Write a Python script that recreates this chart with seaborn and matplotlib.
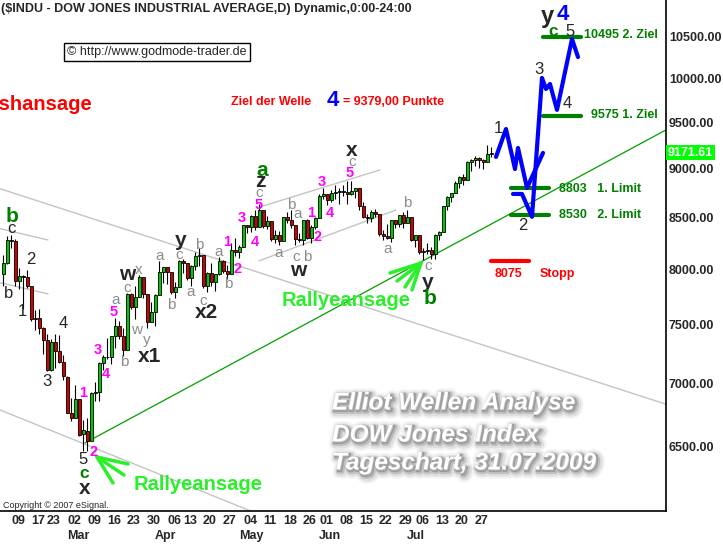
import numpy as np
import pandas as pd
import seaborn as sns
import matplotlib.pyplot as plt
import matplotlib.patheffects as pe
from matplotlib.ticker import NullLocator

W, H = 723, 544

# handelstage 05.02. - 31.07.2009
days = pd.bdate_range('2009-02-05', '2009-07-31').drop(
    pd.to_datetime(['2009-02-16', '2009-04-10', '2009-05-25', '2009-07-03']))

opens = [
    7954, 8063, 8281, 8271, 7889, 7940, 7933, 7850, 7553, 7556, 7466, 7366, 7115, 7351, 7271, 7182,
    7056, 6764, 6726, 6874, 6595, 6625, 6548, 6926, 6930, 7170, 7224, 7217, 7396, 7487, 7401, 7278,
    7776, 7660, 7750, 7925, 7776, 7522,
    7609, 7762, 7978, 8018, 7976, 7790, 7837, 8083, 8058, 7920, 8030, 8125, 8131, 7842, 7970, 7887,
    7957, 8076, 7989, 7957, 8186,
    8168, 8212, 8427, 8411, 8512, 8410, 8575, 8419, 8469, 8285, 8331, 8269, 8504, 8475, 8422, 8292,
    8277, 8473, 8300, 8404,
    8500, 8721, 8741, 8675, 8750, 8763, 8764, 8763, 8739, 8771, 8799, 8612, 8505, 8497, 8556, 8540,
    8339, 8323, 8300, 8472, 8438, 8529,
    8447, 8504, 8281, 8325, 8164, 8178, 8183, 8147, 8332, 8359, 8616, 8712, 8744, 8848, 8916, 8881,
    9069, 9093, 9109, 9097, 9071, 9154,
]
highs = [
    8140, 8315, 8330, 8290, 8010, 7950, 7990, 7850, 7630, 7640, 7480, 7420, 7370, 7420, 7410, 7240,
    7060, 6880, 6990, 6875, 6710, 6720, 6930, 7010, 7180, 7240, 7380, 7400, 7560, 7530, 7470, 7780,
    7780, 7850, 7950, 7930, 7776, 7700,
    7770, 8080, 8020, 8018, 7976, 7880, 8090, 8100, 8060, 8040, 8160, 8200, 8131, 7980, 8060, 7960,
    8120, 8090, 8040, 8250, 8300,
    8230, 8430, 8430, 8530, 8580, 8640, 8575, 8520, 8470, 8380, 8370, 8510, 8560, 8580, 8422, 8350,
    8480, 8490, 8430, 8510,
    8740, 8800, 8741, 8780, 8830, 8800, 8830, 8870, 8870, 8800, 8799, 8660, 8540, 8580, 8590, 8540,
    8380, 8440, 8480, 8480, 8530, 8560,
    8580, 8504, 8330, 8325, 8200, 8250, 8210, 8340, 8370, 8620, 8720, 8750, 8870, 8920, 8940, 9080,
    9100, 9130, 9120, 9100, 9250, 9230,
]
lows = [
    7850, 8050, 8200, 7850, 7820, 7640, 7830, 7530, 7450, 7420, 7250, 7100, 7100, 7130, 7170, 7030,
    6760, 6700, 6720, 6580, 6470, 6470, 6547, 6860, 6860, 7110, 7200, 7160, 7300, 7370, 7230, 7278,
    7640, 7550, 7750, 7740, 7470, 7520,
    7490, 7760, 7870, 7860, 7770, 7740, 7837, 7970, 7900, 7850, 7990, 8030, 7830, 7790, 7850, 7800,
    7950, 7970, 7910, 7955, 8130,
    8110, 8212, 8350, 8360, 8380, 8410, 8400, 8390, 8270, 8250, 8230, 8269, 8450, 8400, 8230, 8260,
    8230, 8290, 8250, 8390,
    8500, 8690, 8630, 8660, 8690, 8640, 8720, 8640, 8730, 8700, 8580, 8500, 8450, 8460, 8510, 8320,
    8280, 8290, 8260, 8400, 8410, 8400,
    8447, 8270, 8210, 8150, 8090, 8150, 8100, 8100, 8280, 8359, 8580, 8660, 8744, 8800, 8830, 8881,
    8980, 9030, 9010, 9000, 9070, 9120,
]
closes = [
    8063, 8281, 8271, 7889, 7940, 7933, 7850, 7553, 7556, 7466, 7366, 7115, 7351, 7271, 7182, 7063,
    6763, 6726, 6876, 6594, 6627, 6547, 6926, 6930, 7170, 7224, 7217, 7396, 7487, 7401, 7278, 7776,
    7660, 7750, 7925, 7776, 7522, 7609,
    7762, 7978, 8018, 7976, 7790, 7837, 8083, 8058, 7920, 8030, 8125, 8131, 7842, 7970, 7887, 7957,
    8076, 7989, 7957, 8186, 8168,
    8212, 8427, 8411, 8512, 8410, 8575, 8419, 8469, 8285, 8331, 8269, 8504, 8475, 8422, 8292, 8277,
    8473, 8300, 8404, 8500,
    8721, 8741, 8675, 8750, 8763, 8764, 8763, 8739, 8771, 8799, 8612, 8505, 8497, 8556, 8540, 8339,
    8323, 8300, 8472, 8438, 8529, 8447,
    8504, 8281, 8325, 8164, 8178, 8183, 8147, 8332, 8359, 8616, 8712, 8744, 8848, 8916, 8881, 9069,
    9093, 9109, 9097, 9071, 9154, 9171.61,
]

tick_days = ['02-09', '02-17', '02-23', '03-02', '03-09', '03-16', '03-23', '03-30', '04-06',
             '04-13', '04-20', '04-27', '05-04', '05-11', '05-18', '05-26', '06-01', '06-08',
             '06-15', '06-22', '06-29', '07-06', '07-13', '07-20', '07-27']
months = ['Mar', 'Apr', 'May', 'Jun', 'Jul']
month_starts = ['03-02', '04-01', '05-01', '06-01', '07-01']
yticks = [6500, 7000, 7500, 8000, 8500, 9000, 9500, 10000, 10500]

# trendlinien (index, kurs)
gray_lines = [(-1, 8795, 166, 6830), (-1, 6790, 66, 5984), (-1, 8393, 11.25, 8280),
              (-1, 7878, 11.25, 7774), (64.25, 8607, 94.25, 8987), (64, 8080, 98.25, 8576)]
green_line = (20.5, 6530, 165.75, 9418)

# projektion
path1_x = [123.25, 125.75, 128, 128.75, 131, 135]
path1_y = [9125, 9428, 8997, 9221, 8800, 9168]
path2_x = [127.5, 129.75, 132.25, 134.75, 135.75, 136.75, 138.5, 142.25, 143.75]
path2_y = [8738, 8738, 8507, 10008, 9880, 9938, 9641, 10475, 10256]

levels = [10495, 9575, 8803, 8530, 8075]
level_from = [135, 135, 127, 127, 122]
level_to = [144.5, 144.5, 136.5, 136.5, 131.5]
level_col = ['#008000', '#008000', '#008000', '#008000', '#ff0000']

sns.set_style('white')
plt.rcParams['font.family'] = ['Liberation Sans', 'DejaVu Sans']

fig = plt.figure(figsize=(W / 100, H / 100), dpi=100)
ax = fig.add_axes([0, 33 / H, 666 / W, 511 / H])
ax.set_yscale('log')

df = pd.DataFrame({'o': opens, 'h': highs, 'l': lows, 'c': closes})
x = np.arange(len(df))
up = df['c'] >= df['o']

for x0, y0, x1, y1 in gray_lines:
    ax.plot([x0, x1], [y0, y1], color='#c4c4c4', lw=1, zorder=1)
ax.plot(green_line[::2], green_line[1::2], color='#00a000', lw=0.9, zorder=2)

ax.vlines(x, df['l'], df['h'], color='black', lw=0.8, zorder=3)
ax.bar(x, (df['c'] - df['o']).abs(), bottom=df[['o', 'c']].min(axis=1), width=0.75,
       color=np.where(up, '#00c800', '#d00000'), edgecolor='black', lw=0.6, zorder=4)

for lv, a, b, col in zip(levels, level_from, level_to, level_col):
    ax.plot([a, b], [lv, lv], color=col, lw=3, zorder=5)

sns.lineplot(x=path1_x, y=path1_y, sort=False, estimator=None, color='#0000ff', lw=3, ax=ax, zorder=6)
sns.lineplot(x=path2_x, y=path2_y, sort=False, estimator=None, color='#0000ff', lw=3, ax=ax, zorder=6)

ax.set_xlim(-0.75, 165.75)
ax.set_ylim(6030, 10964)

# achsen
ax.yaxis.tick_right()
ax.set_yticks(yticks)
ax.set_yticklabels([f'{v:.2f}' for v in yticks])
ax.yaxis.set_minor_locator(NullLocator())
ax.tick_params(axis='y', length=0, pad=2, labelsize=9)
pos = [days.get_loc(pd.Timestamp('2009-' + d)) for d in tick_days]
ax.set_xticks(pos)
ax.set_xticklabels([d[-2:] for d in tick_days])
ax.tick_params(axis='x', length=0, pad=3, labelsize=9)
for t in ax.get_xticklabels():
    t.set_ha('left')
    t.set_fontweight('bold')
for t in ax.get_yticklabels():
    t.set_fontweight('bold')
for m, d in zip(months, month_starts):
    ax.text(days.get_loc(pd.Timestamp('2009-' + d)), -0.049, m, transform=ax.get_xaxis_transform(),
            ha='left', va='center', fontsize=9, fontweight='bold')
for s in ['top', 'left']:
    ax.spines[s].set_visible(False)
for s in ['right', 'bottom']:
    ax.spines[s].set_color('black')
    ax.spines[s].set_linewidth(1.2)

ax.text(1.003, closes[-1], f'{closes[-1]:.2f}', transform=ax.get_yaxis_transform(), ha='left',
        va='center', color='white', fontsize=9, fontweight='bold',
        bbox=dict(boxstyle='square,pad=0.12', fc='#00ff00', ec='none'))


def put(px, py, s, **kw):
    kw.setdefault('ha', 'center')
    kw.setdefault('va', 'center')
    fig.text(px / W, 1 - py / H, s, **kw)


put(1, 9, '($INDU - DOW JONES INDUSTRIAL AVERAGE,D) Dynamic,0:00-24:00', ha='left',
    fontsize=9, fontweight='bold')
put(157, 52, '\u00a9 http://www.godmode-trader.de', fontsize=9,
    bbox=dict(boxstyle='square,pad=0.25', fc='white', ec='black', lw=1))
put(3, 505, 'Copyright \u00a9 2007 eSignal.', ha='left', fontsize=6.5)
# links angeschnitten wie im original
put(92, 105, 'Crashansage', ha='right', color='#ff0000', fontsize=14.5, fontweight='bold')
put(231, 102, 'Ziel der Welle', ha='left', color='#ff0000', fontsize=9, fontweight='bold')
put(333, 101, '4', color='#0000ff', fontsize=16, fontweight='bold')
put(343, 102, '= 9379,00 Punkte', ha='left', color='#ff0000', fontsize=9, fontweight='bold')

# zielmarken
put(584, 35, '10495 2. Ziel', ha='left', color='#008000', fontsize=9, fontweight='bold')
put(591, 115, '9575 1. Ziel', ha='left', color='#008000', fontsize=9, fontweight='bold')
put(559, 189, '8803   1. Limit', ha='left', color='#008000', fontsize=9, fontweight='bold')
put(559, 215, '8530   2. Limit', ha='left', color='#008000', fontsize=9, fontweight='bold')
put(495, 274, '8075', ha='left', color='#ff0000', fontsize=9, fontweight='bold')
put(540, 274, 'Stopp', ha='left', color='#ff0000', fontsize=9, fontweight='bold')

# wellenzaehlung
big_black = [('y', 547, 17), ('y', 181, 240), ('x', 352, 150), ('w', 298, 270), ('w', 127, 275),
             ('z', 260, 182), ('x2', 206, 313), ('x1', 150, 356), ('x', 85, 488), ('y', 428, 282)]
for s, px, py in big_black:
    put(px, py, s, fontsize=15 if px != 547 else 17, fontweight='bold')
for s, px, py in [('b', 12, 217), ('a', 262, 170), ('b', 430, 299)]:
    put(px, py, s, color='#008000', fontsize=15, fontweight='bold')
for s, px, py in [('c', 84, 474), ('c', 553, 32)]:
    put(px, py, s, color='#008000', fontsize=12.5, fontweight='bold')
put(563, 15, '4', color='#0000ff', fontsize=16, fontweight='bold')
black_mid = [('c', 11, 228), ('2', 31, 259), ('b', 9, 294), ('1', 22, 311), ('4', 63, 323),
             ('3', 47, 382), ('5', 83, 459), ('1', 498, 129), ('2', 523, 225), ('3', 539, 69),
             ('4', 567, 103), ('5', 570, 32)]
for s, px, py in black_mid:
    put(px, py, s, fontsize=12)
gray_small = [('x', 139, 270), ('c', 127, 288), ('a', 116, 300), ('w', 137, 330), ('y', 147, 340),
              ('b', 124, 362), ('a', 160, 256), ('c', 179, 255), ('b', 199, 245), ('a', 219, 252),
              ('b', 228, 284), ('b', 171, 305), ('a', 191, 292), ('c', 203, 301), ('c', 259, 193),
              ('b', 291, 205), ('a', 298, 214), ('a', 279, 253), ('c', 296, 257), ('b', 307, 257),
              ('c', 352, 162), ('b', 407, 203), ('a', 388, 249), ('c', 428, 266)]
for s, px, py in gray_small:
    put(px, py, s, color='#8c8c8c', fontsize=11)
magenta = [('5', 114, 312), ('3', 98, 350), ('4', 106, 374), ('1', 83, 393), ('2', 94, 452),
           ('1', 227, 242), ('3', 242, 218), ('2', 238, 269), ('5', 259, 205), ('4', 255, 242),
           ('1', 311, 213), ('3', 322, 182), ('4', 330, 213), ('2', 318, 237), ('5', 350, 173)]
for s, px, py in magenta:
    put(px, py, s, color='#ff00ff', fontsize=10.5, fontweight='bold')

# rallyeansage mit pfeilen
put(346, 300, 'Rallyeansage', color='#2af02a', fontsize=14.5, fontweight='bold')
put(198, 485, 'Rallyeansage', color='#2af02a', fontsize=14.5, fontweight='bold')
for tip, ends in [((421, 263), [(390, 273), (397, 281), (405, 287), (412, 290)]),
                  ((97, 457), [(128, 464), (124, 475), (113, 483)])]:
    for ex, ey in ends:
        fig.add_artist(plt.Line2D([tip[0] / W, ex / W], [1 - tip[1] / H, 1 - ey / H],
                                  transform=fig.transFigure, color='#2af02a', lw=2.5))

# wasserzeichen mit weichem schatten
shadow = [pe.Stroke(linewidth=9, foreground='black', alpha=0.05, offset=(2, -2)),
          pe.Stroke(linewidth=6, foreground='black', alpha=0.08, offset=(2, -2)),
          pe.Stroke(linewidth=3.5, foreground='black', alpha=0.14, offset=(1.5, -1.5)),
          pe.Stroke(linewidth=1.5, foreground='black', alpha=0.2, offset=(1, -1)),
          pe.Normal()]
for s, py in [('Elliot Wellen Analyse', 403), ('DOW Jones Index', 435), ('Tageschart, 31.07.2009', 463)]:
    put(332, py, s, ha='left', color='white', fontsize=17.5, fontweight='bold', fontstyle='italic',
        path_effects=shadow)

fig.savefig('out.png', dpi=100)
